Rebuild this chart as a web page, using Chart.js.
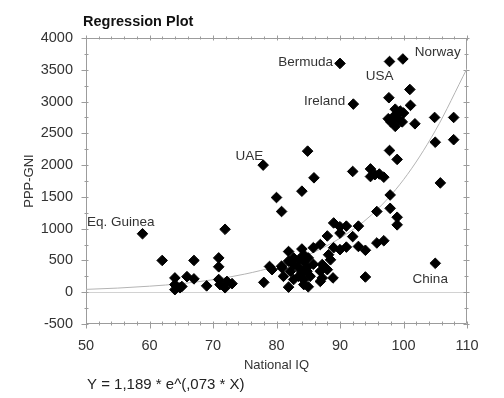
<!DOCTYPE html>
<html><head><meta charset="utf-8">
<script src="https://cdn.jsdelivr.net/npm/chart.js@4"></script>
<style>html,body{margin:0;padding:0;background:#fff}</style>
</head><body>
<canvas id="c" width="504" height="398"></canvas>
<script>
// ---- data ----
const iq = [90.0,97.8,99.9,101.0,92.1,97.7,101.1,98.7,99.5,100.0,97.6,98.4,99.2,99.8,98.7,98.0,99.0,101.8,104.9,107.9,
  105.0,107.9,97.8,99.0,105.8,77.9,84.9,85.9,84.0,80.0,92.0,94.8,95.5,96.9,94.8,96.2,97.9,97.9,95.8,99.0,
  99.0,80.8,89.0,90.0,91.0,92.9,90.0,88.0,92.0,86.9,85.8,89.0,90.0,91.0,92.9,94.0,81.9,84.0,84.3,85.0,
  83.5,82.7,81.9,88.2,88.5,87.2,78.9,79.3,80.9,82.2,83.5,84.0,84.8,85.3,84.3,83.5,86.9,87.2,88.0,88.9,
  86.9,78.0,81.9,84.3,85.0,94.0,81.1,82.7,95.8,96.9,105.0,58.9,71.9,62.0,67.0,70.9,70.9,70.9,65.9,67.0,
  64.0,64.0,64.8,64.0,65.1,69.0,71.1,71.9,73.0,72.2,82.7,84.3,84.8,85.8,80.8];
const gni = [3600,3630,3670,3190,2960,3060,2940,2880,2850,2820,2730,2760,2720,2680,2610,2680,2800,2650,2750,2750,
  2360,2400,2230,2090,1720,2000,2220,1800,1590,1490,1900,1940,1850,1810,1820,1860,1530,1320,1270,1180,
  1060,1270,1090,1030,1040,1040,930,885,875,750,700,700,670,710,720,660,640,680,590,540,
  510,435,490,590,510,435,405,355,380,330,380,305,330,250,200,250,330,225,355,225,
  170,155,80,120,85,240,250,200,775,810,455,920,990,500,500,540,400,200,245,210,
  225,120,70,40,90,100,120,70,135,170,540,480,390,440,410];
const countryNames = {0:'Bermuda',1:'USA',2:'Norway',4:'Ireland',25:'UAE',90:'China',91:'Eq. Guinea'};
const fitIQ  = [50,55,60,65,70,75,80,85,90,95,100,105,110];
const fitGNI = [45,65,95,135,197,285,410,590,850,1220,1770,2540,3520];
const xTickLabels = [50,60,70,80,90,100,110];
const yTickLabels = [-500,0,500,1000,1500,2000,2500,3000,3500,4000];
const titleText = 'Regression Plot';
const formulaText = 'Y = 1,189 * e^(,073 * X)';

// ---- styling ----
const FONT = "'Liberation Sans', Arial, sans-serif";
const labelStyle = {
  'Bermuda':   {align:'right',  dx:-7,  dy:-1},
  'USA':       {align:'center', dx:-10, dy:15},
  'Norway':    {align:'left',   dx:12,  dy:-7},
  'Ireland':   {align:'right',  dx:-8,  dy:-3},
  'UAE':       {align:'right',  dx:0,   dy:-9},
  'Eq. Guinea':{align:'right',  dx:12,  dy:-11},
  'China':     {align:'center', dx:-5,  dy:16}
};

const pts = iq.map((v,i)=>({x:v, y:gni[i]}));
const fit = fitIQ.map((v,i)=>({x:v, y:fitGNI[i]}));

const framePlugin = {
  id:'frame',
  beforeDatasetsDraw(chart){
    const {ctx, chartArea:a, scales:{x,y}} = chart;
    ctx.save();
    ctx.strokeStyle = '#9c9c9c';
    ctx.lineWidth = 1;
    const L = Math.round(a.left)+0.5, R = Math.round(a.right)-0.5, T = Math.round(a.top)+0.5, B = Math.round(a.bottom)-0.5;
    ctx.beginPath();
    ctx.rect(L, T, R-L, B-T);
    for (let v = x.min; v <= x.max + 1e-9; v += 2) {
      const px = Math.round(x.getPixelForValue(v)) + 0.5;
      const major = Math.abs(v % 10) < 1e-9;
      if (major) { ctx.moveTo(px, B - 2); ctx.lineTo(px, B + 5); ctx.moveTo(px, T + 2); ctx.lineTo(px, T - 3); }
      else { ctx.moveTo(px, B - 2); ctx.lineTo(px, B + 2); ctx.moveTo(px, T + 1); ctx.lineTo(px, T - 2); }
    }
    for (let v = y.min; v <= y.max + 1e-9; v += 250) {
      const py = Math.round(y.getPixelForValue(v)) + 0.5;
      const major = Math.abs(v % 500) < 1e-9;
      if (major) { ctx.moveTo(L + 2, py); ctx.lineTo(L - 5, py); ctx.moveTo(R - 3, py); ctx.lineTo(R + 3, py); }
      else { ctx.moveTo(L + 2, py); ctx.lineTo(L - 2, py); ctx.moveTo(R - 2, py); ctx.lineTo(R + 2, py); }
    }
    ctx.stroke();
    ctx.restore();
  },
  afterDatasetsDraw(chart){
    const {ctx, scales:{x,y}} = chart;
    ctx.save();
    ctx.fillStyle = '#333';
    ctx.font = '13.5px ' + FONT;
    ctx.textBaseline = 'middle';
    Object.keys(countryNames).forEach(k=>{
      const name = countryNames[k];
      const s = labelStyle[name];
      const px = x.getPixelForValue(iq[k]) + s.dx;
      const py = y.getPixelForValue(gni[k]) + s.dy;
      ctx.textAlign = s.align;
      ctx.fillText(name, px, py);
    });
    ctx.textAlign = 'left';
    ctx.textBaseline = 'alphabetic';
    ctx.fillStyle = '#111';
    ctx.font = 'bold 14.5px ' + FONT;
    ctx.fillText(titleText, 83, 26);
    ctx.fillStyle = '#222';
    ctx.font = '15px ' + FONT;
    ctx.fillText(formulaText, 87, 389);
    ctx.restore();
  }
};

new Chart(document.getElementById('c'), {
  type:'scatter',
  data:{datasets:[
    {data:pts, pointStyle:'rectRot', pointRadius:5.3, pointHoverRadius:5.3,
     backgroundColor:'#000', borderColor:'#000', borderWidth:1, showLine:false},
    {data:fit, showLine:true, pointRadius:0, borderColor:'#b4b4b4', borderWidth:1,
     cubicInterpolationMode:'monotone', fill:false}
  ]},
  options:{
    responsive:false, animation:false, devicePixelRatio:1,
    layout:{padding:{top:38, right:37, left:0, bottom:0}},
    plugins:{legend:{display:false}, tooltip:{enabled:false}},
    scales:{
      x:{type:'linear', min:50, max:110,
        afterBuildTicks: s => { s.ticks = xTickLabels.map(v=>({value:v})); },
        afterFit: s => { s.height = 74; },
        grid:{display:false, drawTicks:false}, border:{display:false},
        ticks:{padding:13, color:'#333', font:{family:FONT, size:14.5}, callback: v => String(v)},
        title:{display:true, text:'National IQ', color:'#333', font:{family:FONT, size:13}, padding:{top:0, bottom:25}}
      },
      y:{type:'linear', min:-500, max:4000,
        afterBuildTicks: s => { s.ticks = yTickLabels.map(v=>({value:v})); },
        afterFit: s => { s.width = 86; },
        grid:{drawTicks:false, color: c => (c.tick && c.tick.value === 0) ? '#d2d2d2' : 'rgba(0,0,0,0)'},
        border:{display:false},
        ticks:{padding:13, color:'#333', font:{family:FONT, size:14.5}, callback: v => String(v)},
        title:{display:true, text:'PPP-GNI', color:'#333', font:{family:FONT, size:13}, padding:{top:22, bottom:0}}
      }
    }
  },
  plugins:[framePlugin]
});
</script>
</body></html>
